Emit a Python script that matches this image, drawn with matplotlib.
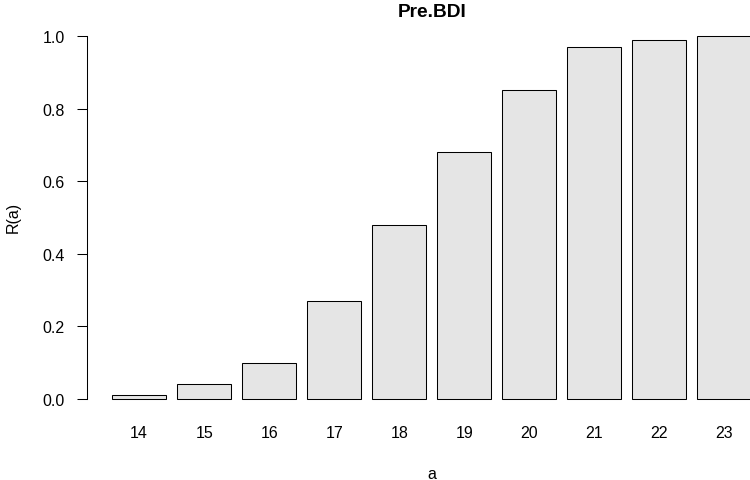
import matplotlib
matplotlib.use("Agg")
import matplotlib.pyplot as plt
import numpy as np

plt.rcParams['font.family'] = ['Liberation Sans', 'DejaVu Sans']

categories = ["14", "15", "16", "17", "18", "19", "20", "21", "22", "23"]
values = [0.01, 0.04, 0.10, 0.27, 0.48, 0.68, 0.85, 0.97, 0.99, 1.00]
yticks = [0.0, 0.2, 0.4, 0.6, 0.8, 1.0]
ytick_labels = ["0.0", "0.2", "0.4", "0.6", "0.8", "1.0"]

W, H = 750, 481
fig = plt.figure(figsize=(W / 100, H / 100), dpi=100)

# plot region in pixels (R-like), extends past right edge as in reference
left_px, right_px = 86.5, 777.0
top_px, bottom_px = 22.5, 414.5
ax = fig.add_axes([left_px / W, 1 - bottom_px / H,
                   (right_px - left_px) / W, (bottom_px - top_px) / H])

n = len(values)
centers = 0.7 + 1.2 * np.arange(n)
ax.bar(centers, values, width=1.0, color="#E5E5E5", edgecolor="black",
       linewidth=0.75)

ax.set_xlim(-0.272, 12.472)
ax.set_ylim(-0.04, 1.04)

for s in ["top", "right", "bottom"]:
    ax.spines[s].set_visible(False)
ax.spines["left"].set_bounds(0, 1)
ax.spines["left"].set_linewidth(0.75)

FS = 11.5
ax.set_yticks(yticks)
ax.set_yticklabels(ytick_labels)
ax.tick_params(axis="y", direction="out", length=6.9, width=0.75,
               pad=8.6, labelsize=FS)
ax.set_xticks(centers)
ax.set_xticklabels(categories)
ax.tick_params(axis="x", length=0, pad=8.3, labelsize=FS)

cx = (left_px + right_px) / 2 / W
fig.text(cx, 1 - 12.5 / H, "Pre.BDI", ha="center", va="center",
         fontsize=13.8, fontweight="bold")
fig.text(cx, 1 - 475 / H, "a", ha="center", va="center", fontsize=FS)
fig.text(13 / W, 1 - 217 / H, "R(a)", ha="center", va="center",
         rotation=90, fontsize=FS)

fig.savefig("out.png", dpi=100)
